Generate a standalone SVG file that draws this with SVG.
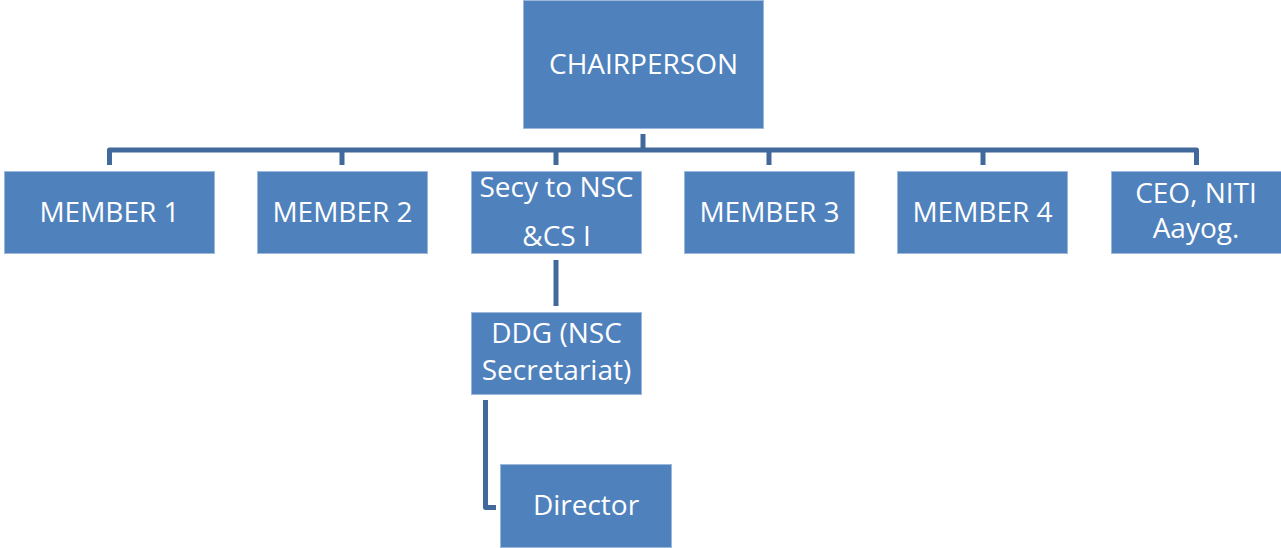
<svg xmlns="http://www.w3.org/2000/svg" width="1281" height="548" viewBox="0 0 1281 548">
<style>
.box{fill:#4F81BD;stroke:#9CB8DC;stroke-width:1}
.lbl{fill:#FFFFFF;font-family:"Open Sans","Liberation Sans",sans-serif;font-size:28px;text-anchor:middle}
.con{fill:none;stroke:#41699C;stroke-width:5;stroke-linejoin:round}
</style>
<rect width="1281" height="548" fill="#FFFFFF"/>
<g id="connectors">
<path class="con" d="M643,134 V150"/>
<path class="con" d="M109.5,165 V150 H1196.5 V165"/>
<path class="con" d="M342,150 V165 M556,150 V165 M769,150 V165 M983,150 V165"/>
<path class="con" d="M556,260 V306"/>
<path class="con" d="M485.5,400 V507.5 H496"/>
</g>
<g id="chairperson"><rect class="box" x="523.5" y="0.5" width="240" height="128"/><text class="lbl" x="643.5" y="74">CHAIRPERSON</text></g>
<g id="member1"><rect class="box" x="4.5" y="171.5" width="210" height="82"/><text class="lbl" x="109.5" y="222">MEMBER 1</text></g>
<g id="member2"><rect class="box" x="257.5" y="171.5" width="170" height="82"/><text class="lbl" x="342.5" y="222">MEMBER 2</text></g>
<g id="secy"><rect class="box" x="471.5" y="171.5" width="170" height="82"/><text class="lbl" x="556.5" y="197">Secy to NSC</text><text class="lbl" x="556.5" y="246">&amp;CS I</text></g>
<g id="member3"><rect class="box" x="684.5" y="171.5" width="170" height="82"/><text class="lbl" x="769.5" y="222">MEMBER 3</text></g>
<g id="member4"><rect class="box" x="897.5" y="171.5" width="170" height="82"/><text class="lbl" x="982.5" y="222">MEMBER 4</text></g>
<g id="ceo"><rect class="box" x="1111.5" y="171.5" width="170" height="82"/><text class="lbl" x="1196" y="203">CEO, NITI</text><text class="lbl" x="1196" y="238">Aayog.</text></g>
<g id="ddg"><rect class="box" x="471.5" y="312.5" width="170" height="82"/><text class="lbl" x="556.5" y="343">DDG (NSC</text><text class="lbl" x="556.5" y="380">Secretariat)</text></g>
<g id="director"><rect class="box" x="500.5" y="464.5" width="171" height="83"/><text class="lbl" x="586" y="515">Director</text></g>
</svg>
